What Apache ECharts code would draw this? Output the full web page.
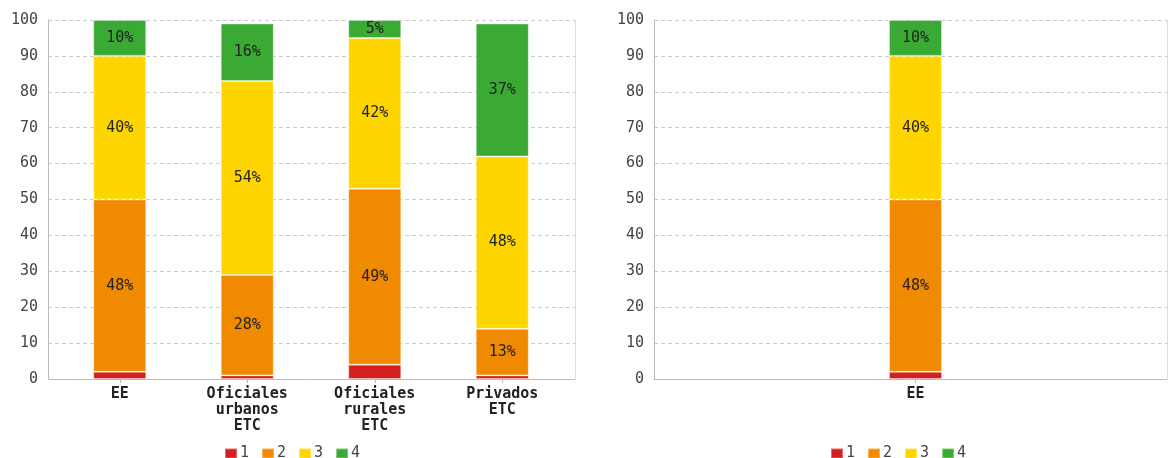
<!DOCTYPE html>
<html><head><meta charset="utf-8">
<script src="https://cdn.jsdelivr.net/npm/echarts@6/dist/echarts.min.js"></script>
<style>html,body{margin:0;padding:0;background:#fff}#c{width:1169px;height:458px}</style>
</head><body><div id="c"></div>
<script>
var categoriesLeft = ['EE', 'Oficiales\nurbanos\nETC', 'Oficiales\nrurales\nETC', 'Privados\nETC'];
var categoriesRight = ['EE'];
var seriesNames = ['1', '2', '3', '4'];
var left1 = [2, 1, 4, 1];
var left2 = [48, 28, 49, 13];
var left3 = [40, 54, 42, 48];
var left4 = [10, 16, 5, 37];
var right1 = [2];
var right2 = [48];
var right3 = [40];
var right4 = [10];
var yTicks = [0, 10, 20, 30, 40, 50, 60, 70, 80, 90, 100];
var colors = ['#d41f1f', '#f08a00', '#ffd500', '#3aaa35'];

var FONT = 'DejaVu Sans Mono';
var chart = echarts.init(document.getElementById('c'));

function bgY(gi) {
  return [{
    type: 'value', gridIndex: gi, min: yTicks[0], max: yTicks[yTicks.length - 1], interval: 10,
    axisLine: {show: true, lineStyle: {color: '#bbb', width: 1}},
    axisTick: {show: false},
    axisLabel: {color: '#444', fontFamily: FONT, fontSize: 15, margin: 10},
    splitLine: {show: true, lineStyle: {color: '#ccc', type: [4, 3], width: 1}}
  }, {
    type: 'value', gridIndex: gi, min: 0, max: 100, position: 'right',
    axisLine: {show: true, lineStyle: {color: '#ddd', width: 1}},
    axisTick: {show: false}, axisLabel: {show: false}, splitLine: {show: false}
  }];
}
function bgX(gi) {
  return {
    type: 'category', gridIndex: gi, data: ['a'],
    axisLine: {show: true, lineStyle: {color: '#bbb', width: 1}},
    axisTick: {show: false}, axisLabel: {show: false}, splitLine: {show: false}
  };
}
function dataX(gi, cats) {
  return {
    type: 'category', gridIndex: gi, data: cats,
    axisLine: {show: false},
    axisTick: {show: true, alignWithLabel: true, length: 4, lineStyle: {color: '#bbb'}},
    axisLabel: {color: '#222', fontFamily: FONT, fontWeight: 'bold', fontSize: 15, lineHeight: 16, margin: 7, interval: 0}
  };
}
function dataY(gi) {
  return {type: 'value', gridIndex: gi, min: 0, max: 100, show: false, splitLine: {show: false}};
}

var yAxes = [].concat(bgY(0), bgY(2), [dataY(1), dataY(3)]);
var xAxes = [bgX(0), dataX(1, categoriesLeft), bgX(2), dataX(3, categoriesRight)];

function mkSeries(name, data, xi, yi, idx) {
  return {
    name: name, type: 'bar', stack: 's' + xi, xAxisIndex: xi, yAxisIndex: yi, data: data,
    barWidth: 53,
    itemStyle: {color: colors[idx], borderColor: 'rgba(255,255,255,0.35)', borderWidth: 1},
    label: {
      show: true, position: 'inside', color: '#222', fontFamily: FONT, fontSize: 15,
      formatter: function (p) { return p.value >= 5 ? p.value + '%' : ''; }
    }
  };
}
var leftData = [left1, left2, left3, left4];
var rightData = [right1, right2, right3, right4];
var series = [];
for (var i = 0; i < 4; i++) series.push(mkSeries(seriesNames[i], leftData[i], 1, 4, i));
for (var j = 0; j < 4; j++) series.push(mkSeries(seriesNames[j], rightData[j], 3, 5, j));

chart.setOption({
  animation: false,
  color: colors,
  grid: [
    {left: 48, top: 20, width: 527, height: 359},
    {left: 56, top: 20, width: 510, height: 359},
    {left: 654, top: 20, width: 513, height: 359},
    {left: 662, top: 20, width: 510, height: 359}
  ],
  legend: [
    {data: seriesNames, left: 219, top: 441, itemWidth: 12, itemHeight: 10, itemGap: 12, icon: 'rect',
     textStyle: {color: '#444', fontFamily: FONT, fontSize: 15, padding: [0, 0, 0, -2]}},
    {data: seriesNames, left: 825, top: 441, itemWidth: 12, itemHeight: 10, itemGap: 12, icon: 'rect',
     textStyle: {color: '#444', fontFamily: FONT, fontSize: 15, padding: [0, 0, 0, -2]}}
  ],
  xAxis: xAxes,
  yAxis: yAxes,
  series: series
});
</script></body></html>
